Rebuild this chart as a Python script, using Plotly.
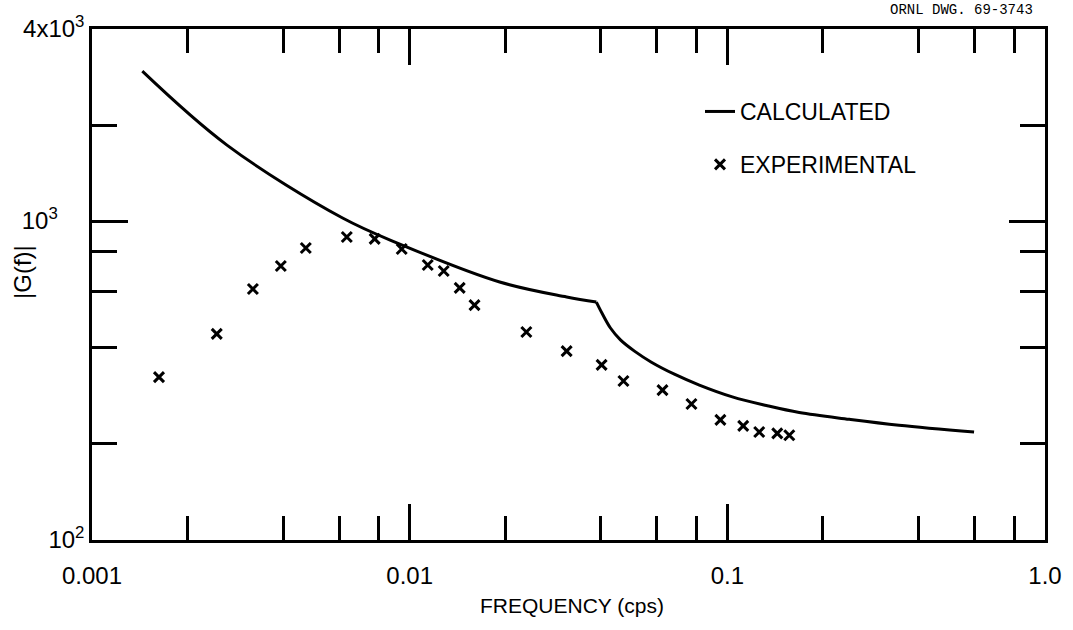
import plotly.graph_objects as go
import math

# Calculated |G(f)| curve (two segments meeting at the corner near 0.04 cps)
calc_f_low = [0.00144, 0.00266, 0.00615, 0.00931, 0.0192, 0.0312, 0.0387]
calc_g_low = [2950, 1730, 1022, 847, 644, 578, 557]
calc_f_high = [0.0387, 0.04045, 0.04286, 0.04608, 0.05101, 0.05768, 0.06813, 0.08165,
               0.1037, 0.1327, 0.1684, 0.242, 0.347, 0.598]
calc_g_high = [557, 511, 462, 424, 391, 361, 331, 306,
               281, 264, 251, 239, 229, 218]

# Experimental points
exp_f = [0.001625, 0.00247, 0.00321, 0.00393, 0.00471, 0.00634, 0.00776, 0.00944, 0.0114, 0.0128,
         0.01437, 0.0160, 0.0233, 0.0312, 0.0402, 0.0471, 0.0625, 0.0771, 0.0951, 0.1122, 0.126, 0.1436, 0.1567]
exp_g = [324, 443, 612, 723, 823, 891, 879, 817, 728, 697,
         617, 545, 449, 391, 354, 315, 295, 267, 238, 228, 218, 216, 213]

# Axis ticks
x_major = [0.001, 0.01, 0.1, 1.0]
x_major_text = ["0.001", "0.01", "0.1", "1.0"]
x_minor = [0.002, 0.004, 0.006, 0.008, 0.02, 0.04, 0.06, 0.08, 0.2, 0.4, 0.6, 0.8]
y_major = [100, 1000, 4000]
y_major_text = ["10<sup>2</sup>", "10<sup>3</sup>&nbsp;&nbsp;&nbsp;&nbsp;", "4x10<sup>3</sup>"]
y_minor = [200, 400, 600, 800, 2000]

FONT = "Liberation Sans"
L, R, T, B = 92, 1045, 29, 540
PW, PH = R - L, B - T

fig = go.Figure()
fig.add_trace(go.Scatter(x=calc_f_low, y=calc_g_low, mode="lines", name="CALCULATED",
                         legendgroup="calc",
                         line=dict(color="black", width=3, shape="spline", smoothing=1.0),
                         showlegend=True))
fig.add_trace(go.Scatter(x=calc_f_high, y=calc_g_high, mode="lines", name="CALCULATED",
                         legendgroup="calc",
                         line=dict(color="black", width=3, shape="spline", smoothing=1.0),
                         showlegend=False))
fig.add_trace(go.Scatter(x=exp_f, y=exp_g, mode="markers", name="EXPERIMENTAL",
                         legendgroup="exp",
                         marker=dict(symbol="x-thin", size=10, line=dict(color="black", width=3), color="black"),
                         showlegend=True))

axis_common = dict(showline=True, linecolor="black", linewidth=2.5, mirror="ticks",
                   ticks="inside", ticklen=36, tickwidth=2.5, tickcolor="black",
                   showgrid=False, zeroline=False, automargin=False,
                   tickfont=dict(family=FONT, size=24, color="black"))

fig.update_xaxes(type="log", range=[-3, 0], tickmode="array", tickvals=x_major, ticktext=x_major_text,
                 ticklabelstandoff=12,
                 minor=dict(tickmode="array", tickvals=x_minor, ticks="inside", ticklen=24,
                            tickwidth=2.5, tickcolor="black", showgrid=False),
                 **axis_common)
fig.update_yaxes(type="log", range=[2, math.log10(4000)], tickmode="array", tickvals=y_major, ticktext=y_major_text,
                 ticklabelstandoff=0,
                 minor=dict(tickmode="array", tickvals=y_minor, ticks="inside", ticklen=25,
                            tickwidth=2.5, tickcolor="black", showgrid=False),
                 **axis_common)

# axis titles
fig.add_annotation(xref="paper", yref="paper", x=(572 - L) / PW, y=(B - 605) / PH,
                   xanchor="center", yanchor="middle", showarrow=False,
                   text="FREQUENCY (cps)", font=dict(family=FONT, size=21, color="black"))
fig.add_annotation(xref="paper", yref="paper", x=(22 - L) / PW, y=(B - 272) / PH,
                   xanchor="center", yanchor="middle", showarrow=False, textangle=-90,
                   text="|G(f)|", font=dict(family=FONT, size=24, color="black"))
fig.add_annotation(xref="paper", yref="paper", x=(1035 - L) / PW, y=(B - 10) / PH,
                   xanchor="right", yanchor="middle", showarrow=False,
                   text="ORNL DWG. 69-3743", font=dict(family="Liberation Mono", size=14, color="black"))

fig.update_layout(width=1073, height=630, margin=dict(l=L, r=1073 - R, t=T, b=630 - B),
                  paper_bgcolor="white", plot_bgcolor="white",
                  showlegend=True,
                  legend=dict(x=(700 - L) / PW, y=(B - 90) / PH, xanchor="left", yanchor="top",
                              traceorder="grouped", tracegroupgap=20, itemwidth=30,
                              bgcolor="rgba(0,0,0,0)", borderwidth=0,
                              font=dict(family=FONT, size=23, color="black")))

fig.write_html("out.html")
